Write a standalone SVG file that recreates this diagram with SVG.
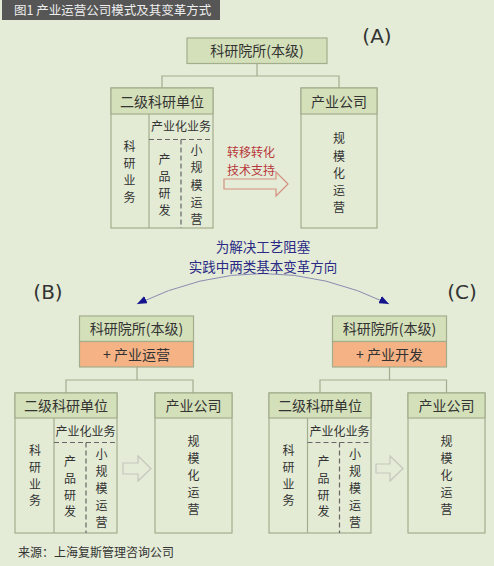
<svg xmlns="http://www.w3.org/2000/svg" width="494" height="566" viewBox="0 0 494 566">
<defs>
<style>
.bg{fill:#e4ecd7}
.hdr{fill:#d4e0b9;stroke:#a3ad8d;stroke-width:1.2}
.body{fill:#e3ebd5;stroke:#a3ad8d;stroke-width:1.2}
.org{fill:#f5b285;stroke:#a3ad8d;stroke-width:1.2}
.sep{stroke:#a3ad8d;stroke-width:1.2;fill:none}
.dash{stroke:#666;stroke-width:1.2;stroke-dasharray:5,3;fill:none}
.conn{stroke:#a3ad8d;stroke-width:1.2;fill:none}
.t{font-family:"Noto Sans CJK SC","Noto Sans",sans-serif;fill:#333;text-anchor:middle}
.h{font-size:14px}
.s{font-size:12px}
.v{font-size:12px}
.lbl{font-family:"DejaVu Sans",sans-serif;font-size:20px;fill:#333;text-anchor:middle}
.red{font-family:"Noto Sans CJK SC",sans-serif;font-size:12px;fill:#b8383a;text-anchor:middle}
.blue{font-family:"Noto Sans CJK SC",sans-serif;font-size:13.5px;fill:#2b2b86;text-anchor:middle}
</style>
<marker id="ah" viewBox="0 0 10 8" refX="10" refY="4" markerWidth="10" markerHeight="8" markerUnits="userSpaceOnUse" orient="auto-start-reverse">
<path d="M0,0 L10,4 L0,8 Z" fill="#14148c"/>
</marker>
</defs>
<rect class="bg" x="0" y="0" width="494" height="566"/>
<g id="title">
<rect x="2" y="0" width="218" height="20" fill="#565656"/>
<text x="14" y="15" style="font-family:'Noto Sans CJK SC',sans-serif;font-size:12.5px;fill:#eeeeee">图1 产业运营公司模式及其变革方式</text>
</g>

<g id="connectors">
<path class="conn" d="M257,63 V76 M162,88 V76 H339 V88"/>
<path class="conn" d="M137,367 V380 M66,393 V380 H193 V393"/>
<path class="conn" d="M389.5,367 V380 M320,393 V380 H446.5 V393"/>
<path d="M137,304 Q263,243 389,304" fill="none" stroke="#8a8cb0" stroke-width="1" marker-start="url(#ah)" marker-end="url(#ah)"/>
</g>

<!-- (A) -->
<text class="lbl" x="377" y="43">(A)</text>
<g id="a-top">
<rect class="hdr" x="187" y="38" width="140" height="25.5"/>
<text class="t h" x="257" y="56">科研院所(本级)</text>
</g>
<g id="a-sub">
<rect class="body" x="111" y="88" width="102" height="140"/>
<rect class="hdr" x="111" y="88" width="102" height="26"/>
<text class="t h" x="162" y="106.5">二级科研单位</text>
<line class="sep" x1="149" y1="114" x2="149" y2="228"/>
<line class="dash" x1="149" y1="139.5" x2="213" y2="139.5"/>
<line class="dash" x1="181" y1="139.5" x2="181" y2="228"/>
<text class="t s" x="181" y="131">产业化业务</text>
<text class="t v" x="129.5"><tspan x="129.5" y="151">科</tspan><tspan x="129.5" y="168">研</tspan><tspan x="129.5" y="185">业</tspan><tspan x="129.5" y="202">务</tspan></text>
<text class="t v" x="164.5"><tspan x="164.5" y="164">产</tspan><tspan x="164.5" y="181">品</tspan><tspan x="164.5" y="198">研</tspan><tspan x="164.5" y="215">发</tspan></text>
<text class="t v" x="196.5"><tspan x="196.5" y="154.5">小</tspan><tspan x="196.5" y="172">规</tspan><tspan x="196.5" y="189.5">模</tspan><tspan x="196.5" y="207">运</tspan><tspan x="196.5" y="224">营</tspan></text>
</g>
<g id="a-arrow">
<polygon points="224,179 276,179 276,172 288,184 276,196 276,189 224,189" fill="none" stroke="#d59080" stroke-width="1.2"/>
<text class="red" x="251"><tspan x="251" y="156.5">转移转化</tspan><tspan x="251" y="174.5">技术支持</tspan></text>
</g>
<g id="a-company">
<rect class="body" x="301" y="88" width="76" height="140"/>
<rect class="hdr" x="301" y="88" width="76" height="26"/>
<text class="t h" x="339" y="106.5">产业公司</text>
<text class="t v" x="339"><tspan x="339" y="143">规</tspan><tspan x="339" y="160.5">模</tspan><tspan x="339" y="178">化</tspan><tspan x="339" y="195">运</tspan><tspan x="339" y="212">营</tspan></text>
</g>

<g id="note">
<text class="blue" x="263"><tspan x="263" y="252">为解决工艺阻塞</tspan><tspan x="263" y="272">实践中两类基本变革方向</tspan></text>
</g>

<!-- (B) -->
<text class="lbl" x="48" y="299">(B)</text>
<g id="b-top">
<rect class="hdr" x="79.5" y="316" width="114" height="25.5"/>
<rect class="org" x="79.5" y="341.5" width="114" height="25.5"/>
<text class="t h" x="136.5" y="334">科研院所(本级)</text>
<text class="t h" x="136.5" y="359.5">+ 产业运营</text>
</g>
<g id="b-sub">
<rect class="body" x="15" y="393" width="102" height="140"/>
<rect class="hdr" x="15" y="393" width="102" height="25"/>
<text class="t h" x="66" y="411">二级科研单位</text>
<line class="sep" x1="54" y1="418" x2="54" y2="533"/>
<line class="dash" x1="54" y1="442.5" x2="117" y2="442.5"/>
<line class="dash" x1="86" y1="442.5" x2="86" y2="533"/>
<text class="t s" x="85.5" y="436">产业化业务</text>
<text class="t v" x="35"><tspan x="35" y="454.5">科</tspan><tspan x="35" y="471.5">研</tspan><tspan x="35" y="488.5">业</tspan><tspan x="35" y="505">务</tspan></text>
<text class="t v" x="70"><tspan x="70" y="465.5">产</tspan><tspan x="70" y="482.5">品</tspan><tspan x="70" y="499.5">研</tspan><tspan x="70" y="516">发</tspan></text>
<text class="t v" x="101.5"><tspan x="101.5" y="458.5">小</tspan><tspan x="101.5" y="475.5">规</tspan><tspan x="101.5" y="492.5">模</tspan><tspan x="101.5" y="509.5">运</tspan><tspan x="101.5" y="526.5">营</tspan></text>
</g>
<g id="b-arrow">
<polygon points="123,463 138,463 138,456 151,468.5 138,481 138,474 123,474" fill="none" stroke="#c4c6bc" stroke-width="1.2"/>
</g>
<g id="b-company">
<rect class="body" x="155" y="393" width="77" height="140"/>
<rect class="hdr" x="155" y="393" width="77" height="25"/>
<text class="t h" x="193.5" y="411">产业公司</text>
<text class="t v" x="193.5"><tspan x="193.5" y="446">规</tspan><tspan x="193.5" y="463">模</tspan><tspan x="193.5" y="480">化</tspan><tspan x="193.5" y="497">运</tspan><tspan x="193.5" y="514">营</tspan></text>
</g>

<!-- (C) -->
<text class="lbl" x="462" y="299">(C)</text>
<g id="c-top">
<rect class="hdr" x="332.5" y="316" width="114" height="25.5"/>
<rect class="org" x="332.5" y="341.5" width="114" height="25.5"/>
<text class="t h" x="389.5" y="334">科研院所(本级)</text>
<text class="t h" x="389.5" y="359.5">+ 产业开发</text>
</g>
<g id="c-sub">
<rect class="body" x="269" y="393" width="102" height="140"/>
<rect class="hdr" x="269" y="393" width="102" height="25"/>
<text class="t h" x="320" y="411">二级科研单位</text>
<line class="sep" x1="307.5" y1="418" x2="307.5" y2="533"/>
<line class="dash" x1="307.5" y1="442.5" x2="371" y2="442.5"/>
<line class="dash" x1="339.5" y1="442.5" x2="339.5" y2="533"/>
<text class="t s" x="339.5" y="436">产业化业务</text>
<text class="t v" x="288.5"><tspan x="288.5" y="454.5">科</tspan><tspan x="288.5" y="471.5">研</tspan><tspan x="288.5" y="488.5">业</tspan><tspan x="288.5" y="505">务</tspan></text>
<text class="t v" x="323.5"><tspan x="323.5" y="465.5">产</tspan><tspan x="323.5" y="482.5">品</tspan><tspan x="323.5" y="499.5">研</tspan><tspan x="323.5" y="516">发</tspan></text>
<text class="t v" x="355"><tspan x="355" y="458.5">小</tspan><tspan x="355" y="475.5">规</tspan><tspan x="355" y="492.5">模</tspan><tspan x="355" y="509.5">运</tspan><tspan x="355" y="526.5">营</tspan></text>
</g>
<g id="c-arrow">
<polygon points="376,464 390,464 390,456 403,468.5 390,481 390,473 376,473" fill="none" stroke="#c4c6bc" stroke-width="1.2"/>
</g>
<g id="c-company">
<rect class="body" x="408" y="393" width="77" height="140"/>
<rect class="hdr" x="408" y="393" width="77" height="25"/>
<text class="t h" x="446.5" y="411">产业公司</text>
<text class="t v" x="446.5"><tspan x="446.5" y="446">规</tspan><tspan x="446.5" y="463">模</tspan><tspan x="446.5" y="480">化</tspan><tspan x="446.5" y="497">运</tspan><tspan x="446.5" y="514">营</tspan></text>
</g>

<g id="source">
<text x="18" y="557" style="font-family:'Noto Sans CJK SC',sans-serif;font-size:12px;fill:#333">来源：上海复斯管理咨询公司</text>
</g>
</svg>
